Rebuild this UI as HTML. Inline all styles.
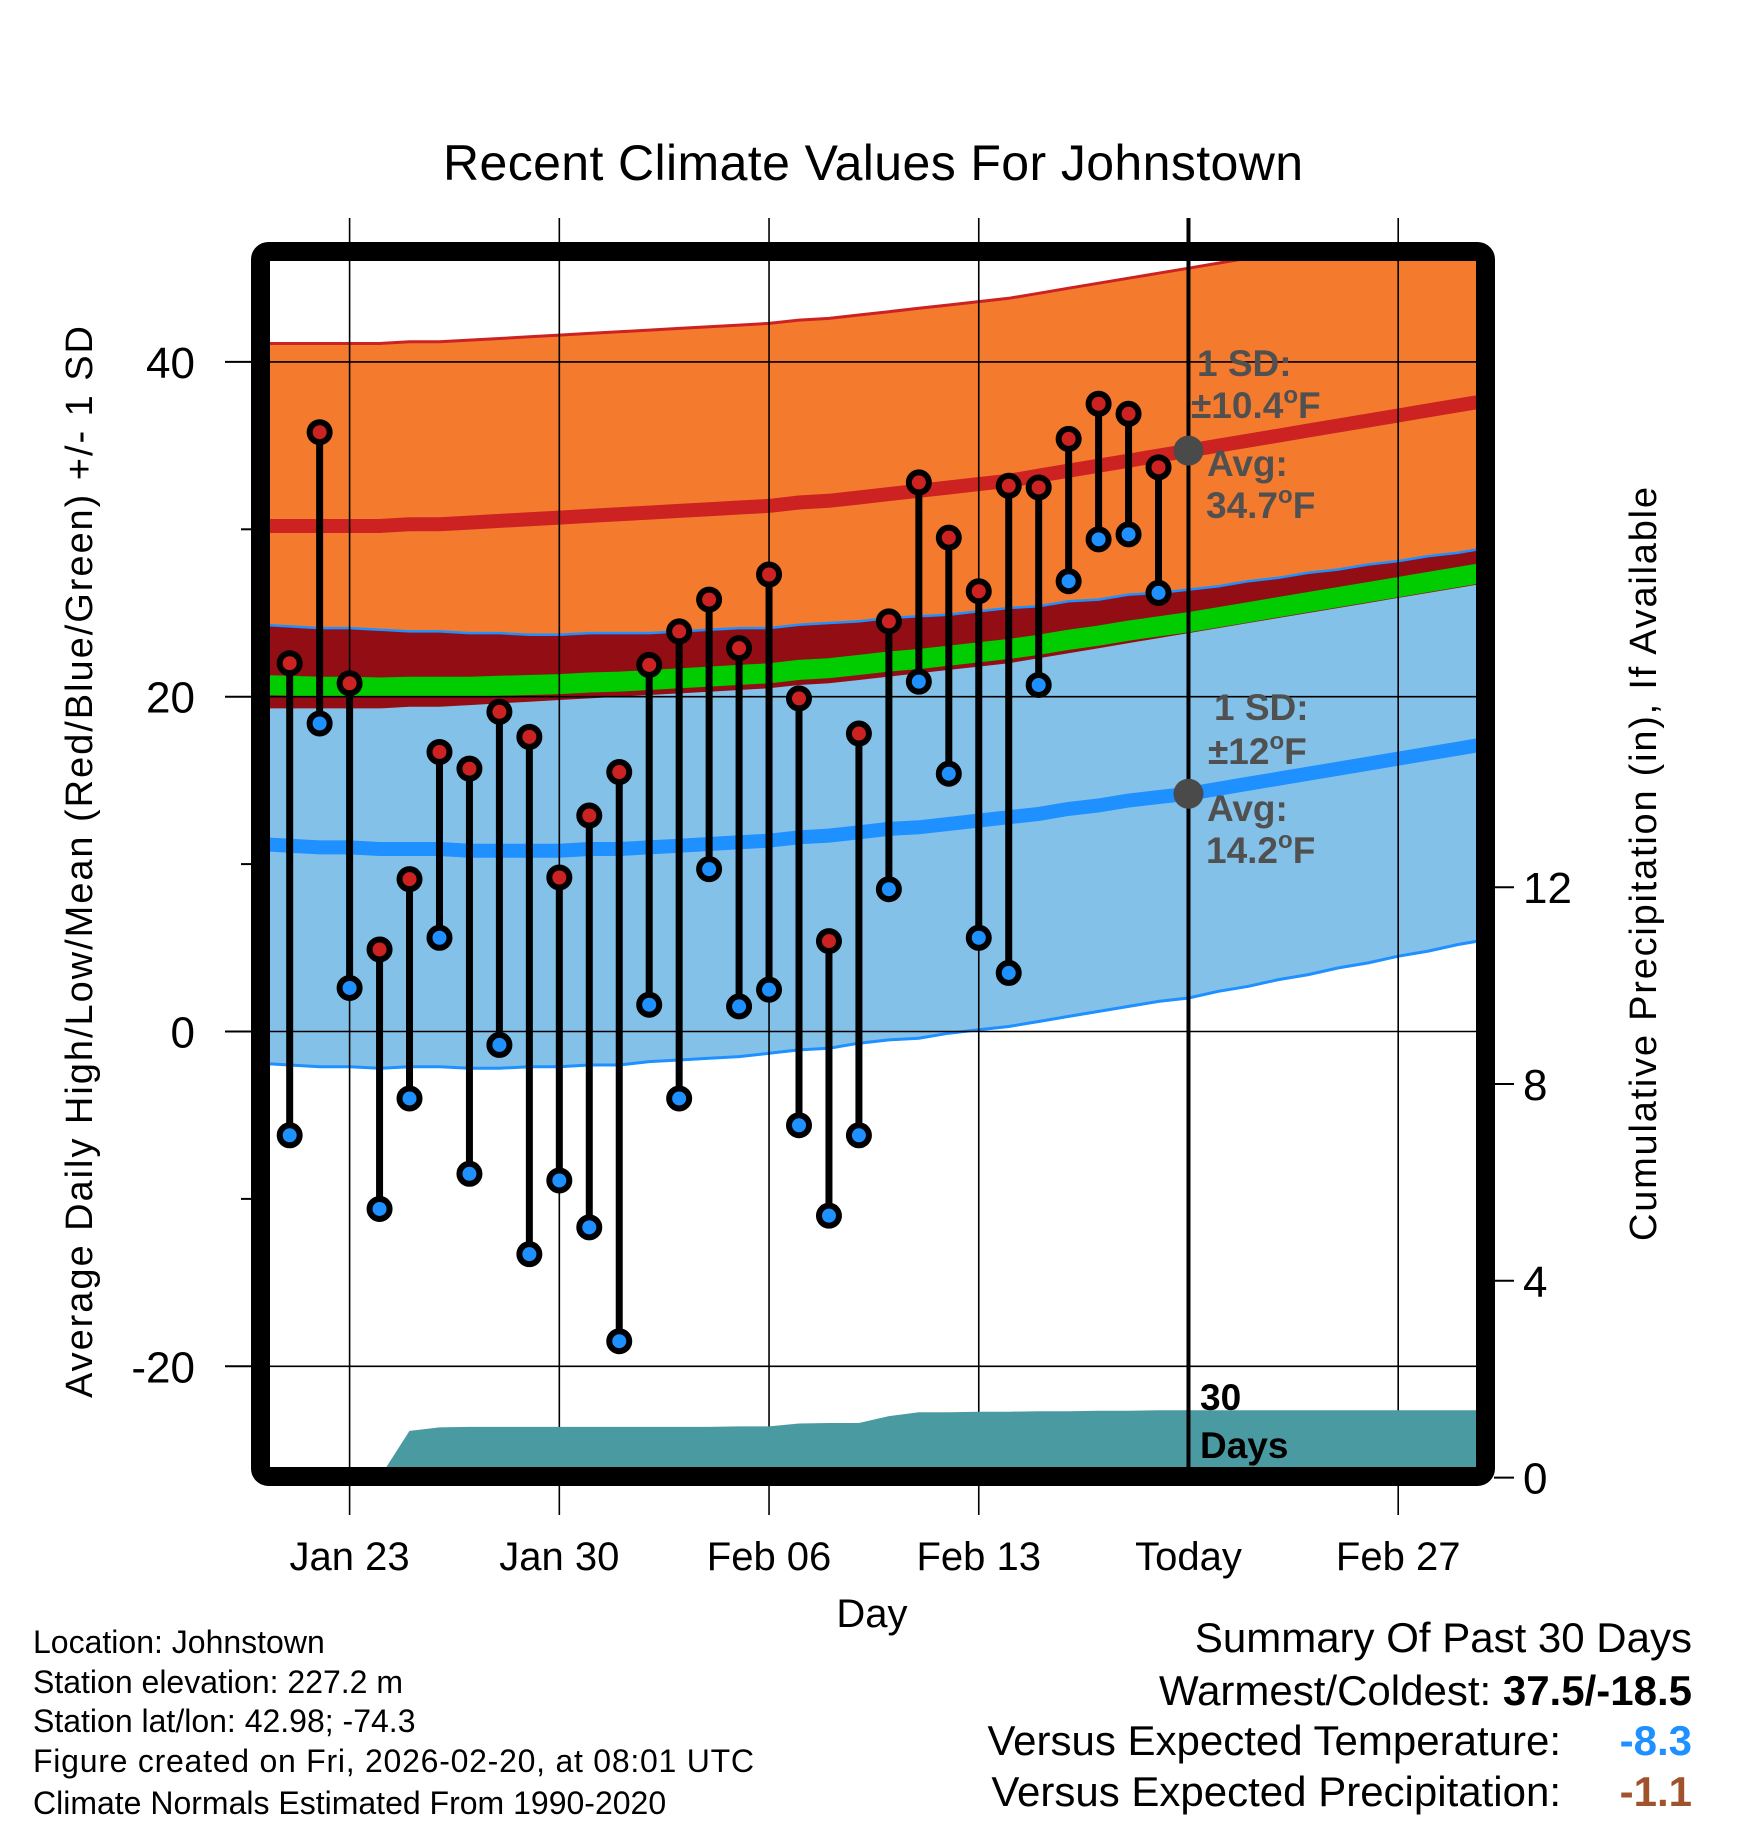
<!DOCTYPE html>
<html><head><meta charset="utf-8"><style>
html,body{margin:0;padding:0;background:#fff;}
svg{display:block;font-family:"Liberation Sans",sans-serif;}
</style></head><body>
<svg id="chart" width="1748" height="1828" viewBox="0 0 1748 1828" xmlns="http://www.w3.org/2000/svg">
<defs><clipPath id="plotclip"><rect x="270" y="261" width="1206" height="1206"/></clipPath></defs>
<text x="873" y="180" font-size="50" text-anchor="middle" textLength="860">Recent Climate Values For Johnstown</text>
<g id="bands" clip-path="url(#plotclip)"></g>
<g id="grid"></g>
<g id="precip" clip-path="url(#plotclip)"></g>
<g id="marks"></g>
<g id="annot">
<text x="1197" y="376" font-size="37" font-weight="bold" fill="#505050">1 SD:</text>
<text x="1191" y="418" font-size="37" font-weight="bold" fill="#505050">±10.4<tspan font-size="24" dy="-15">o</tspan><tspan dy="15">F</tspan></text>
<text x="1207" y="476" font-size="37" font-weight="bold" fill="#505050">Avg:</text>
<text x="1206" y="518" font-size="37" font-weight="bold" fill="#505050">34.7<tspan font-size="24" dy="-15">o</tspan><tspan dy="15">F</tspan></text>
<text x="1214" y="720" font-size="37" font-weight="bold" fill="#505050">1 SD:</text>
<text x="1208" y="764" font-size="37" font-weight="bold" fill="#505050">±12<tspan font-size="24" dy="-15">o</tspan><tspan dy="15">F</tspan></text>
<text x="1207" y="821" font-size="37" font-weight="bold" fill="#505050">Avg:</text>
<text x="1206" y="863" font-size="37" font-weight="bold" fill="#505050">14.2<tspan font-size="24" dy="-15">o</tspan><tspan dy="15">F</tspan></text>
<text x="1200" y="1410" font-size="37" font-weight="bold">30</text>
<text x="1200" y="1458" font-size="37" font-weight="bold">Days</text>
</g>
<rect x="260.5" y="251.5" width="1225" height="1225" rx="8" fill="none" stroke="#000" stroke-width="19"/>
<g id="axes"></g>
<text transform="translate(92,862) rotate(-90)" font-size="38" text-anchor="middle" textLength="1072">Average Daily High/Low/Mean (Red/Blue/Green) +/- 1 SD</text>
<text transform="translate(1656,864) rotate(-90)" font-size="38" text-anchor="middle" textLength="754">Cumulative Precipitation (in), If Available</text>
<text x="872" y="1627" font-size="40" text-anchor="middle">Day</text>
<g font-size="32">
<text x="33" y="1653">Location: Johnstown</text>
<text x="33" y="1693">Station elevation: 227.2 m</text>
<text x="33" y="1732">Station lat/lon: 42.98; -74.3</text>
<text x="33" y="1772" textLength="721">Figure created on Fri, 2026-02-20, at 08:01 UTC</text>
<text x="33" y="1814">Climate Normals Estimated From 1990-2020</text>
</g>
<g font-size="42">
<text x="1692" y="1652" text-anchor="end">Summary Of Past 30 Days</text>
<text x="1692" y="1705" text-anchor="end">Warmest/Coldest: <tspan font-weight="bold">37.5/-18.5</tspan></text>
<text x="1561" y="1755" text-anchor="end">Versus Expected Temperature:</text>
<text x="1692" y="1755" text-anchor="end" fill="#1e90ff" font-weight="bold">-8.3</text>
<text x="1561" y="1806" text-anchor="end">Versus Expected Precipitation:</text>
<text x="1692" y="1806" text-anchor="end" fill="#a0522d" font-weight="bold">-1.1</text>
</g>
</svg>
<script>
// day index 0 = Jan 23
const normDays = [-3,-2,-1,0,1,2,3,4,5,6,7,8,9,10,11,12,13,14,15,16,17,18,19,20,21,22,23,24,25,26,27,28,29,30,31,32,33,34,35,36,37,38];
const normHigh = [30.2,30.2,30.2,30.2,30.2,30.3,30.3,30.4,30.5,30.6,30.7,30.8,30.9,31.0,31.1,31.2,31.3,31.4,31.6,31.7,31.9,32.1,32.3,32.5,32.7,32.9,33.2,33.5,33.8,34.1,34.4,34.7,35.0,35.3,35.6,35.9,36.2,36.5,36.8,37.1,37.4,37.7];
const normLow = [11.2,11.1,11.0,11.0,10.9,10.9,10.9,10.8,10.8,10.8,10.8,10.9,10.9,11.0,11.1,11.2,11.3,11.4,11.6,11.7,11.9,12.1,12.2,12.4,12.6,12.8,13.0,13.3,13.5,13.8,14.0,14.2,14.5,14.8,15.1,15.4,15.7,16.0,16.3,16.6,16.9,17.2];
const highSd = 10.9;
const lowSd = [13.1,13.1,13.1,13.1,13.1,13.0,13.0,13.0,13.0,12.9,12.9,12.9,12.9,12.8,12.8,12.8,12.8,12.7,12.7,12.7,12.6,12.6,12.6,12.5,12.5,12.5,12.4,12.4,12.3,12.3,12.2,12.2,12.1,12.1,12.0,12.0,11.9,11.9,11.8,11.8,11.7,11.7];
const obsDays = [-2,-1,0,1,2,3,4,5,6,7,8,9,10,11,12,13,14,15,16,17,18,19,20,21,22,23,24,25,26,27];
const obsHigh = [22.0,35.8,20.8,4.9,9.1,16.7,15.7,19.1,17.6,9.2,12.9,15.5,21.9,23.9,25.8,22.9,27.3,19.9,5.4,17.8,24.5,32.8,29.5,26.3,32.6,32.5,35.4,37.5,36.9,33.7];
const obsLow = [-6.2,18.4,2.6,-10.6,-4.0,5.6,-8.5,-0.8,-13.3,-8.9,-11.7,-18.5,1.6,-4.0,9.7,1.5,2.5,-5.6,-11.0,-6.2,8.5,20.9,15.4,5.6,3.5,20.7,26.9,29.4,29.7,26.2];
const precipDays = [1,2,3,4,5,6,7,8,9,10,11,12,13,14,15,16,17,18,19,20,21,22,23,24,25,26,27,28,38];
const precipCum = [0,0.95,1.02,1.03,1.03,1.03,1.03,1.03,1.03,1.03,1.03,1.03,1.04,1.04,1.10,1.11,1.11,1.25,1.33,1.33,1.34,1.34,1.35,1.35,1.36,1.36,1.37,1.37,1.37];
const xTickDays = [0,7,14,21,28,35];
const xTickLabels = ["Jan 23","Jan 30","Feb 06","Feb 13","Today","Feb 27"];
const yTicks = [40,20,0,-20];
const yMinor = [30,10,-10];
const y2Ticks = [0,4,8,12];
const todayDay = 28;

const NS="http://www.w3.org/2000/svg";
const X = d => 349.6 + d*29.96;
const Y = t => 1031.5 - t*16.74;
const Y2 = p => 1477.6 - p*49.2;
function mk(tag, attrs, parent){const e=document.createElementNS(NS,tag);for(const k in attrs)e.setAttribute(k,attrs[k]);parent.appendChild(e);return e;}
function pts(days, vals){return days.map((d,i)=>X(d).toFixed(1)+","+Y(vals[i]).toFixed(1));}
function band(upper, lower){return pts(normDays,upper).concat(pts(normDays,lower).reverse()).join(" ");}

const bands=document.getElementById('bands');
const hiU=normHigh.map(v=>v+highSd), hiL=normHigh.map(v=>v-highSd);
const loU=normLow.map((v,i)=>v+lowSd[i]), loL=normLow.map((v,i)=>v-lowSd[i]);
const mean=normHigh.map((v,i)=>(v+normLow[i])/2);
let e;
e=mk('polygon',{points:band(hiU,hiL),fill:'#f47a2e'},bands);


e=mk('polygon',{points:band(loU,loL),fill:'#83c1e8'},bands);


const ovU=loU.map(v=>v), ovL=hiL.map((v,i)=>Math.min(v,loU[i]));
e=mk('polygon',{points:band(ovU,ovL),fill:'#930d14'},bands);


e=mk('polyline',{points:pts(normDays,hiU).join(" "),fill:'none',stroke:'#cc2222','stroke-width':3},bands);


e=mk('polyline',{points:pts(normDays,loU).join(" "),fill:'none',stroke:'#1e90ff','stroke-width':2.5},bands);


e=mk('polyline',{points:pts(normDays,loL).join(" "),fill:'none',stroke:'#1e90ff','stroke-width':3},bands);


e=mk('polyline',{points:pts(normDays,mean).join(" "),fill:'none',stroke:'#00cc00','stroke-width':20},bands);


e=mk('polyline',{points:pts(normDays,normHigh).join(" "),fill:'none',stroke:'#cc2222','stroke-width':14},bands);


e=mk('polyline',{points:pts(normDays,normLow).join(" "),fill:'none',stroke:'#1e90ff','stroke-width':14},bands);



const grid=document.getElementById('grid');
yTicks.forEach(t=>{
  e=mk('line',{x1:270,x2:1476,y1:Y(t),y2:Y(t),stroke:'#000','stroke-width':1.6},grid);
  
  
});
xTickDays.forEach(d=>{
  if(d===todayDay) return;
  e=mk('line',{x1:X(d),x2:X(d),y1:218,y2:1515,stroke:'#000','stroke-width':1.6},grid);
  
  
});

const precip=document.getElementById('precip');
const pp=precipDays.map((d,i)=>X(d).toFixed(1)+","+Y2(precipCum[i]).toFixed(1));
pp.push(X(precipDays[precipDays.length-1]).toFixed(1)+",1480");
pp.push(X(precipDays[0]).toFixed(1)+",1480");
e=mk('polygon',{points:pp.join(" "),fill:'#4a9aa2'},precip);



const marks=document.getElementById('marks');
e=mk('line',{x1:X(todayDay),x2:X(todayDay),y1:218,y2:1468,stroke:'#000','stroke-width':4},marks);


obsDays.forEach((d,i)=>{
  const x=X(d);
  e=mk('line',{x1:x,x2:x,y1:Y(obsHigh[i]),y2:Y(obsLow[i]),stroke:'#000','stroke-width':7},marks);
  
  
});
obsDays.forEach((d,i)=>{
  const x=X(d);
  e=mk('circle',{cx:x,cy:Y(obsHigh[i]),r:10,fill:'#cc2222',stroke:'#000','stroke-width':6},marks);
  
  
  e=mk('circle',{cx:x,cy:Y(obsLow[i]),r:10,fill:'#1e90ff',stroke:'#000','stroke-width':6},marks);
  
  
});
e=mk('circle',{cx:X(todayDay),cy:Y(normHigh[normDays.indexOf(todayDay)]),r:15,fill:'#4a4a4a'},marks);


e=mk('circle',{cx:X(todayDay),cy:Y(normLow[normDays.indexOf(todayDay)]),r:15,fill:'#4a4a4a'},marks);



const axes=document.getElementById('axes');
yTicks.forEach(t=>{
  e=mk('line',{x1:225,x2:252,y1:Y(t),y2:Y(t),stroke:'#000','stroke-width':2},axes);
  
  
  e=mk('text',{x:195,y:Y(t)+16,'font-size':44,'text-anchor':'end'},axes);
  e.textContent=String(t);
  
  
});
yMinor.forEach(t=>{
  e=mk('line',{x1:241,x2:252,y1:Y(t),y2:Y(t),stroke:'#000','stroke-width':2},axes);
  
  
});
y2Ticks.forEach(p=>{
  e=mk('line',{x1:1494,x2:1514,y1:Y2(p),y2:Y2(p),stroke:'#000','stroke-width':2},axes);
  
  
  e=mk('text',{x:1523,y:Y2(p)+16,'font-size':44},axes);
  e.textContent=String(p);
  
  
});
xTickDays.forEach((d,i)=>{
  e=mk('text',{x:X(d),y:1570,'font-size':40,'text-anchor':'middle'},axes);
  e.textContent=xTickLabels[i];
  
  
});
</script>
</body></html>
